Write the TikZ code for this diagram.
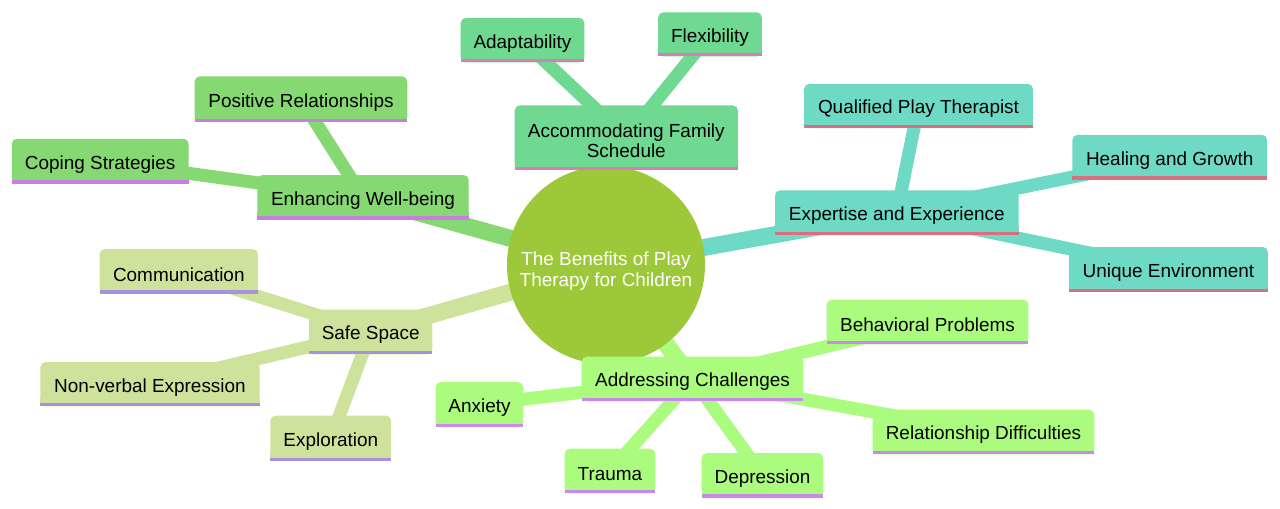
\documentclass[tikz,border=0pt]{standalone}
\usepackage{fontspec}
\setmainfont{Liberation Sans}
\pgfdeclarelayer{edges}
\pgfdeclarelayer{fills}
\pgfsetlayers{edges,fills,main}
\definecolor{cRoot}{HTML}{9DC83A}
\definecolor{cA}{HTML}{6FD891}\definecolor{lA}{HTML}{D77EB9}
\definecolor{cE}{HTML}{85D872}\definecolor{lE}{HTML}{C77EE0}
\definecolor{cX}{HTML}{6ED9C4}\definecolor{lX}{HTML}{D97080}
\definecolor{cS}{HTML}{CDE29A}\definecolor{lS}{HTML}{A990DF}
\definecolor{cC}{HTML}{ABFC7E}\definecolor{lC}{HTML}{C98BEB}
\tikzset{
  box/.style={rectangle, inner sep=0pt, align=center, text=black,
    font=\fontsize{14.2}{15.5}\selectfont},
  rootnode/.style={circle, inner sep=0pt, align=center, text=white,
    minimum size=148.5pt, font=\fontsize{14.2}{15.8}\selectfont},
  e0/.style={line width=12.75pt},
  e1/.style={line width=9.75pt},
}
% node placed 3px below the box centre, so that its text sits as in the reference
\newcommand\mmbox[6]{\node[box, minimum width=#4*0.75pt, minimum height=#5*0.75pt] (#1) at (#2,#3+3) {#6};}
\begin{document}
\begin{tikzpicture}[x=0.75pt,y=-0.75pt]
\useasboundingbox (0,0) rectangle (1280,508);
\node[rootnode] (root) at (606,271) {The Benefits of Play\\Therapy for Children};
% section A
\mmbox{acc}{626.3}{137.7}{222.7}{64}{Accommodating Family\\Schedule}
\mmbox{adapt}{522.5}{40.2}{123}{44}{Adaptability}
\mmbox{flex}{710}{34.3}{103}{43.5}{Flexibility}
% section E
\mmbox{enh}{363}{197.3}{210.7}{44}{Enhancing Well-being}
\mmbox{pos}{301}{99.2}{212}{45}{Positive Relationships}
\mmbox{cope}{100.2}{161.2}{176.3}{44.3}{Coping Strategies}
% section X
\mmbox{exp}{896.8}{212.8}{243}{44.3}{Expertise and Experience}
\mmbox{qual}{918.5}{106}{228.3}{43.7}{Qualified Play Therapist}
\mmbox{heal}{1169.7}{157.2}{194}{44.3}{Healing and Growth}
\mmbox{uniq}{1168.5}{269.5}{198.3}{44.3}{Unique Environment}
% section S
\mmbox{safe}{370.7}{332}{122.7}{44}{Safe Space}
\mmbox{comm}{178.8}{271.3}{157.7}{44}{Communication}
\mmbox{nonv}{150}{384.2}{218.7}{43.7}{Non-verbal Expression}
\mmbox{expl}{330.8}{438.3}{120.3}{44.7}{Exploration}
% section C
\mmbox{addr}{692.5}{379}{221}{44}{Addressing Challenges}
\mmbox{beh}{927.5}{322}{201}{44}{Behavioral Problems}
\mmbox{anx}{479.5}{404.5}{87}{44}{Anxiety}
\mmbox{trauma}{610}{471}{90}{44}{Trauma}
\mmbox{dep}{762.5}{475.3}{121}{44}{Depression}
\mmbox{rel}{983.5}{432}{221}{44}{Relationship Difficulties}
% edges (centre to centre, corrected for the text offsets)
\begin{pgfonlayer}{edges}
\coordinate (rc) at ([yshift=4.5pt]root.center);
\draw[e0,cA] (rc) -- ([yshift=2.25pt]acc.center);
\draw[e0,cE] (rc) -- ([yshift=2.25pt]enh.center);
\draw[e0,cX] (rc) -- ([yshift=2.25pt]exp.center);
\draw[e0,cS] (rc) -- ([yshift=2.25pt]safe.center);
\draw[e0,cC] (rc) -- ([yshift=2.25pt]addr.center);
\foreach \p/\q/\c in {acc/adapt/cA, acc/flex/cA,
  enh/pos/cE, enh/cope/cE,
  exp/qual/cX, exp/heal/cX, exp/uniq/cX,
  safe/comm/cS, safe/nonv/cS, safe/expl/cS,
  addr/beh/cC, addr/anx/cC, addr/trauma/cC, addr/dep/cC, addr/rel/cC}{
  \draw[e1,\c] ([yshift=2.25pt]\p.center) -- ([yshift=2.25pt]\q.center);
}
\fill[cRoot] (rc) circle[radius=74.25pt];
\end{pgfonlayer}
% box fills
\begin{pgfonlayer}{fills}
\foreach \n/\c/\l in {acc/cA/lA, adapt/cA/lA, flex/cA/lA,
  enh/cE/lE, pos/cE/lE, cope/cE/lE,
  exp/cX/lX, qual/cX/lX, heal/cX/lX, uniq/cX/lX,
  safe/cS/lS, comm/cS/lS, nonv/cS/lS, expl/cS/lS,
  addr/cC/lC, beh/cC/lC, anx/cC/lC, trauma/cC/lC, dep/cC/lC, rel/cC/lC}{
  \fill[\c, rounded corners=3.75pt] ([yshift=2.25pt]\n.south west) rectangle ([yshift=2.25pt]\n.north east);
  \fill[\c] ([yshift=2.25pt]\n.south west) rectangle ([yshift=8.25pt]\n.south east);
  \fill[\l] ([yshift=2.25pt]\n.south west) rectangle ([yshift=4.65pt]\n.south east);
}
\end{pgfonlayer}
\end{tikzpicture}
\end{document}
